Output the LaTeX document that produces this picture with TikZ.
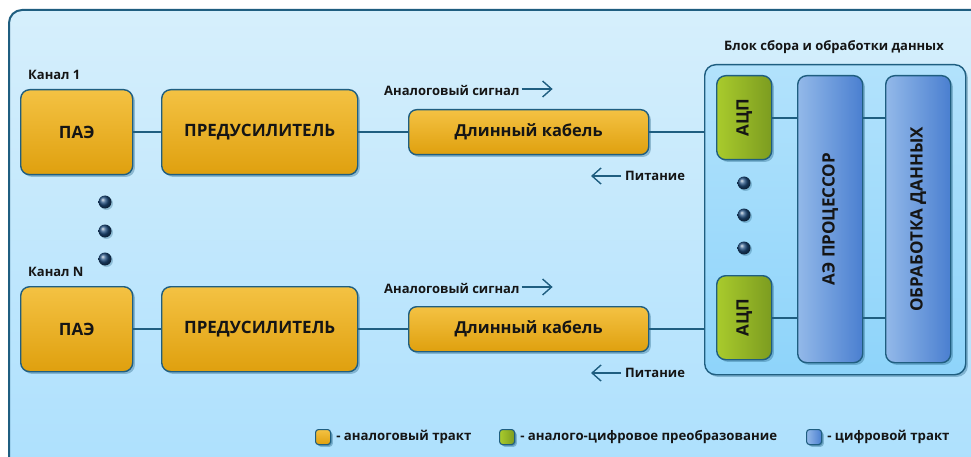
\documentclass[tikz,border=0pt]{standalone}
\usepackage{fontspec}
\usepackage{graphicx}
\setmainfont{Open Sans}
\usetikzlibrary{shadows,arrows.meta,calc}

\definecolor{edge}{HTML}{1F5E80}
\definecolor{frameTop}{HTML}{D6EFFC}
\definecolor{frameBot}{HTML}{ADE0FD}
\definecolor{blockTop}{HTML}{B2E2FC}
\definecolor{blockBot}{HTML}{8ED4FA}
\definecolor{orTop}{HTML}{F4C243}
\definecolor{orBot}{HTML}{DFA00E}
\definecolor{grL}{HTML}{A9CB2C}
\definecolor{grR}{HTML}{7C9C20}
\definecolor{blL}{HTML}{93B9E9}
\definecolor{blR}{HTML}{4A7FD0}
\definecolor{dotc}{HTML}{1E4C7E}
\definecolor{txt}{HTML}{151515}

\tikzset{
  boxshadow/.style={drop shadow={shadow xshift=2.2pt,shadow yshift=-2.2pt,opacity=0.35,fill=edge}},
  basebox/.style={draw=edge,line width=1.4pt,rounded corners=9pt,anchor=north west,
    inner sep=0pt,text=txt,boxshadow},
  orangebox/.style={basebox,top color=orTop,bottom color=orBot,
    font=\bfseries\fontsize{17}{19}\selectfont},
  greenbox/.style={basebox,left color=grL,right color=grR,
    font=\bfseries\fontsize{17}{19}\selectfont},
  bluebox/.style={basebox,left color=blL,right color=blR,
    font=\bfseries\fontsize{17}{19}\selectfont},
  conn/.style={draw=edge,line width=1.7pt},
  dirarrow/.style={draw=edge,line width=1.4pt,-{Straight Barb[length=9pt,width=16pt,line width=1.4pt]}},
  smalllabel/.style={font=\bfseries\fontsize{13}{15}\selectfont,text=txt,inner sep=0pt},
  legendlabel/.style={smalllabel,font=\bfseries\fontsize{13.2}{15}\selectfont},
  dotball/.style={circle,inner sep=0pt,minimum size=13pt,shading=ball,ball color=dotc,
    drop shadow={shadow xshift=1.5pt,shadow yshift=-1.5pt,opacity=0.3,fill=edge}},
  legendsq/.style={basebox,rounded corners=3pt,minimum width=15pt,minimum height=15pt,
    line width=1.1pt,drop shadow={shadow xshift=1.2pt,shadow yshift=-1.2pt,opacity=0.35,fill=edge}},
}

\begin{document}
\begin{tikzpicture}[x=1pt,y=-1pt]
  \useasboundingbox (0,0) rectangle (971,457);
  \fill[white] (0,0) rectangle (971,457);

  % outer frame
  \draw[draw=edge,line width=2pt,rounded corners=13pt,top color=frameTop,bottom color=frameBot]
    (9,10) rectangle (1000,470);

  % data acquisition and processing block
  \node[smalllabel] (blkLabel) at (834,47) {Блок сбора и обработки данных};
  \node[basebox,rounded corners=11pt,top color=blockTop,bottom color=blockBot,
        minimum width=261pt,minimum height=310pt] (blk) at (704,64) {};

  % channel 1
  \node[smalllabel,anchor=west] (ch1) at (28,75) {Канал 1};
  \node[orangebox,minimum width=112pt,minimum height=85pt] (pae1) at (20,89) {ПАЭ};
  \node[orangebox,minimum width=196pt,minimum height=85pt] (pre1) at (161,89) {ПРЕДУСИЛИТЕЛЬ};
  \node[orangebox,rounded corners=8pt,minimum width=240pt,minimum height=45pt,
        font=\bfseries\fontsize{16.5}{18}\selectfont] (cab1) at (408,109) {Длинный кабель};
  \node[smalllabel,anchor=west] (sig1) at (384,90) {Аналоговый сигнал};
  \node[smalllabel,anchor=west] (pow1) at (625,176) {Питание};

  % channel N
  \node[smalllabel,anchor=west] (chN) at (28,272) {Канал N};
  \node[orangebox,minimum width=112pt,minimum height=85pt] (paeN) at (20,286) {ПАЭ};
  \node[orangebox,minimum width=196pt,minimum height=85pt] (preN) at (161,286) {ПРЕДУСИЛИТЕЛЬ};
  \node[orangebox,rounded corners=8pt,minimum width=240pt,minimum height=45pt,
        font=\bfseries\fontsize{16.5}{18}\selectfont] (cabN) at (408,306) {Длинный кабель};
  \node[smalllabel,anchor=west] (sigN) at (384,288) {Аналоговый сигнал};
  \node[smalllabel,anchor=west] (powN) at (625,373) {Питание};

  % channel ellipsis
  \node[dotball] (cd1) at (105,202) {};
  \node[dotball] (cd2) at (105,231) {};
  \node[dotball] (cd3) at (105,259) {};

  % converters and digital part
  \node[greenbox,minimum width=55pt,minimum height=84pt] (adc1) at (716,75) {\rotatebox{90}{АЦП}};
  \node[greenbox,minimum width=55pt,minimum height=84pt] (adcN) at (716,275) {\rotatebox{90}{АЦП}};
  \node[dotball] (ad1) at (744,183) {};
  \node[dotball] (ad2) at (744,215) {};
  \node[dotball] (ad3) at (744,248) {};
  \node[bluebox,minimum width=65pt,minimum height=287pt] (proc) at (797,75) {\rotatebox{90}{АЭ ПРОЦЕССОР}};
  \node[bluebox,minimum width=65pt,minimum height=287pt] (dproc) at (885,75) {\rotatebox{90}{ОБРАБОТКА ДАННЫХ}};

  % connectors
  \path[conn] (pae1.east) -- (pre1.west);
  \path[conn] (pre1.east) -- (cab1.west);
  \path[conn] (cab1.east) -- (cab1.east -| blk.west);
  \path[conn] (paeN.east) -- (preN.west);
  \path[conn] (preN.east) -- (cabN.west);
  \path[conn] (cabN.east) -- (cabN.east -| blk.west);
  \path[conn] (adc1.east) -- (adc1.east -| proc.west);
  \path[conn] (adc1.east -| proc.east) -- (adc1.east -| dproc.west);
  \path[conn] (adcN.east) -- (adcN.east -| proc.west);
  \path[conn] (adcN.east -| proc.east) -- (adcN.east -| dproc.west);

  % signal and power direction arrows
  \coordinate (s1a) at ($(sig1.east)+(2,-1)$);
  \coordinate (s1b) at ($(s1a)+(31,0)$);
  \draw[dirarrow] (s1a) -- (s1b);
  \coordinate (sNa) at ($(sigN.east)+(2,-1)$);
  \coordinate (sNb) at ($(sNa)+(31,0)$);
  \draw[dirarrow] (sNa) -- (sNb);
  \coordinate (p1a) at ($(pow1.west)+(-4,0)$);
  \coordinate (p1b) at ($(p1a)+(-30,0)$);
  \draw[dirarrow] (p1a) -- (p1b);
  \coordinate (pNa) at ($(powN.west)+(-4,0)$);
  \coordinate (pNb) at ($(pNa)+(-30,0)$);
  \draw[dirarrow] (pNa) -- (pNb);

  % legend
  \node[legendsq,top color=orTop,bottom color=orBot] (lgA) at (315,429) {};
  \node[legendlabel,anchor=west] (lgAt) at ($(lgA.east)+(5,0)$) {- аналоговый тракт};
  \node[legendsq,left color=grL,right color=grR] (lgB) at (499,429) {};
  \node[legendlabel,anchor=west] (lgBt) at ($(lgB.east)+(5,0)$) {- аналого-цифровое преобразование};
  \node[legendsq,left color=blL,right color=blR] (lgC) at (806,429) {};
  \node[legendlabel,anchor=west] (lgCt) at ($(lgC.east)+(5,0)$) {- цифровой тракт};
\end{tikzpicture}
\end{document}
